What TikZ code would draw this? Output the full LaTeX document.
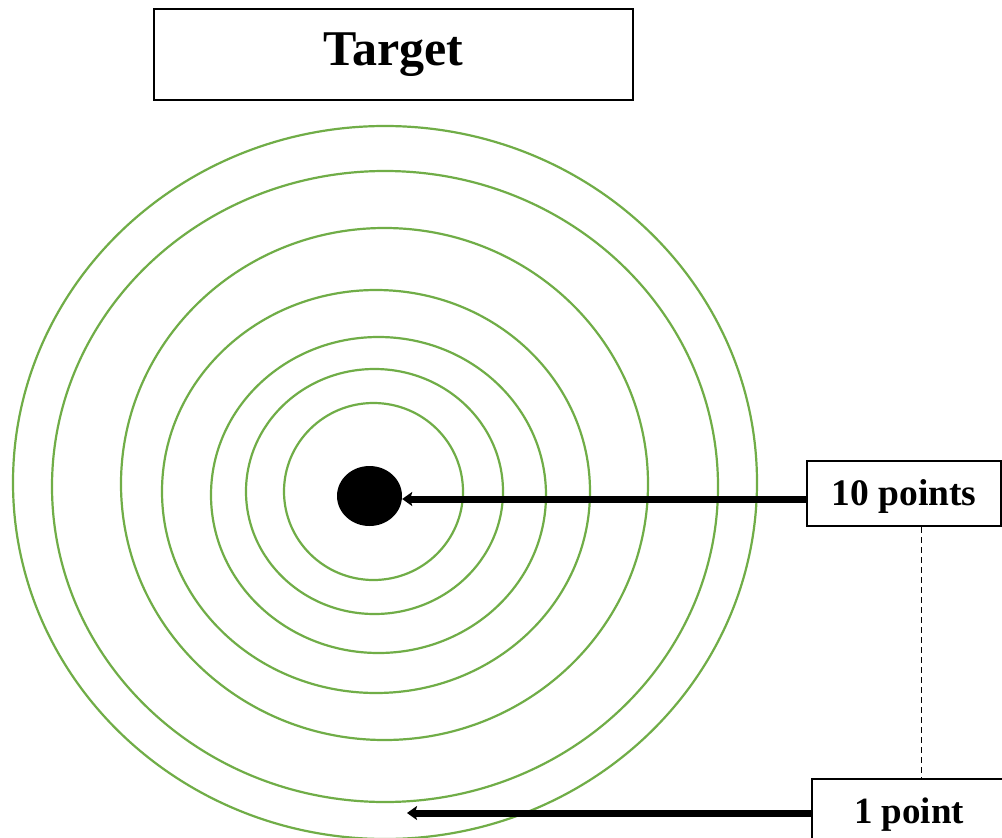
\documentclass[tikz,border=0pt]{standalone}
\usepackage{fontspec}
\setmainfont{Liberation Serif}
\usetikzlibrary{arrows.meta,shapes.geometric}
\definecolor{ringgreen}{HTML}{70AD47}
\begin{document}
\begin{tikzpicture}[x=1pt,y=-1pt,
  ring/.style={draw=ringgreen,line width=2.2pt},
  labelbox/.style={draw=black,line width=2pt,fill=white,inner sep=0pt,text depth=0pt,font=\bfseries\fontsize{37.5}{42}\selectfont},
  bigarrow/.style={line width=7pt,-{Stealth[length=10pt,width=14pt,inset=2pt]}}
]
\clip (0,0) rectangle (1002,838);
\fill[white] (0,0) rectangle (1002,838);
% title
\node[labelbox,minimum width=479pt,minimum height=91pt,text height=21pt,font=\bfseries\fontsize{50}{60}\selectfont] (title) at (393.5,54.5) {Target};
% rings
\draw[ring] (373.5,491.5) ellipse [x radius=89.5pt, y radius=88.5pt];
\draw[ring] (374.5,491.5) ellipse [x radius=128.5pt, y radius=122.5pt];
\draw[ring] (378.5,495) ellipse [x radius=167.5pt, y radius=158pt];
\draw[ring] (376,491.5) ellipse [x radius=214pt, y radius=201.5pt];
\draw[ring] (384.5,484) ellipse [x radius=263.5pt, y radius=256pt];
\draw[ring] (385,486.5) ellipse [x radius=333pt, y radius=315.5pt];
\draw[ring] (385,482.5) ellipse [x radius=372pt, y radius=356.5pt];
% bullseye
\node[fill=black,ellipse,draw=none,minimum width=65pt,minimum height=60pt,inner sep=0pt] (dot) at (369.5,496) {};
% labels
\node[labelbox,minimum width=194pt,minimum height=65pt,text height=23pt] (p10) at (904,493.5) {10 points};
\node[labelbox,minimum width=194pt,minimum height=70pt,text height=18pt,font=\bfseries\fontsize{37}{42}\selectfont] (p1) at (909,814) {1 point};
\coordinate (t1) at (407,813);
\coordinate (dashx) at (921,0);
% arrows
\draw[bigarrow] ([yshift=-5.5pt]p10.west) -- ([yshift=-3pt]dot.east);
\draw[bigarrow] ([yshift=1pt]p1.west) -- (t1);
\draw[line width=1pt,dash pattern=on 6pt off 4pt] (p10.south -| dashx) -- (p1.north -| dashx);
\end{tikzpicture}
\end{document}
